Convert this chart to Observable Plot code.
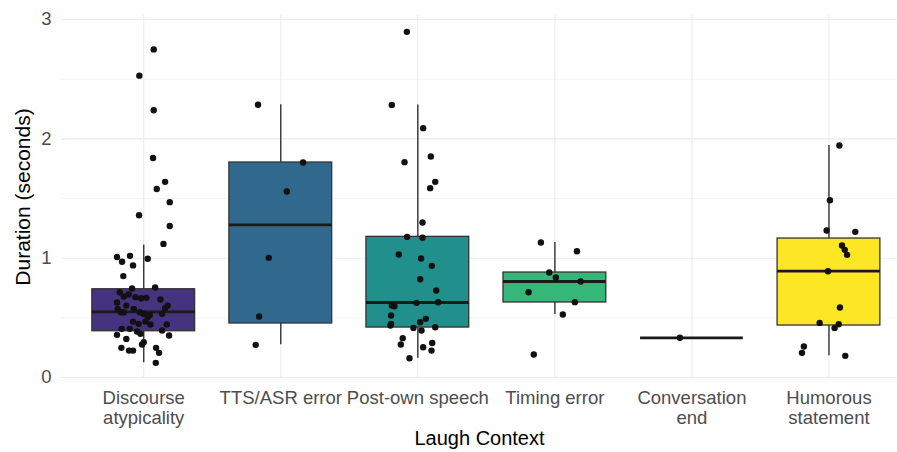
<!DOCTYPE html>
<html>
<head>
<meta charset="utf-8">
<script src="https://cdn.jsdelivr.net/npm/d3@7"></script>
<script src="https://cdn.jsdelivr.net/npm/@observablehq/plot@0.6"></script>
<style>
  html, body { margin: 0; padding: 0; background: #fff; }
</style>
</head>
<body>
<div id="chart"></div>
<script>
// ---- data ----
const categories = ["Discourse atypicality", "TTS/ASR error", "Post-own speech", "Timing error", "Conversation end", "Humorous statement"];
const tickLabels = ["Discourse\natypicality", "TTS/ASR error", "Post-own speech", "Timing error", "Conversation\nend", "Humorous\nstatement"];
const colors = ["#45337F", "#31688E", "#21908C", "#35B779", "#8FD744", "#FDE725"];

const q1          = [0.388, 0.453, 0.419, 0.629, 0.333, 0.436];
const medians     = [0.550, 1.280, 0.629, 0.805, 0.333, 0.891];
const q3          = [0.740, 1.802, 1.179, 0.880, 0.333, 1.165];
const whiskerLow  = [0.123, 0.274, 0.162, 0.528, 0.333, 0.182];
const whiskerHigh = [1.110, 2.286, 2.285, 1.132, 0.333, 1.945];

const yTicks = [0, 1, 2, 3];
const yMinorTicks = [0.5, 1.5, 2.5];

// durations (seconds) and jitter offsets (category units)
const discourseValues = [2.75, 2.53, 2.24, 1.84, 1.64, 1.58, 1.47, 1.36, 1.27, 1.12, 1.01, 0.97, 1.02, 0.94, 0.995, 0.85, 0.746, 0.754,
  0.715, 0.679, 0.696, 0.673, 0.665, 0.668, 0.654, 0.629, 0.603, 0.603, 0.581, 0.575, 0.575, 0.547, 0.547, 0.547, 0.534, 0.525, 0.534, 0.506,
  0.469, 0.450, 0.469, 0.444, 0.444, 0.408, 0.408, 0.358, 0.386, 0.366, 0.394, 0.352, 0.324, 0.296, 0.277, 0.249, 0.226, 0.226, 0.249, 0.207, 0.123];
const discourseJitter = [0.073, -0.032, 0.073, 0.068, 0.156, 0.095, 0.190, -0.034, 0.190, 0.144, -0.195, -0.158, -0.100, -0.078, 0.029, -0.149, -0.085, 0.083,
  -0.175, -0.146, -0.110, -0.061, -0.019, 0.019, 0.122, -0.195, -0.127, 0.175, 0.156, -0.190, -0.073, -0.166, -0.146, -0.029, 0.000, 0.044, 0.134, 0.029,
  -0.078, -0.037, 0.012, 0.049, 0.168, -0.102, -0.161, -0.195, -0.049, -0.024, 0.134, 0.185, -0.127, 0.000, -0.012, -0.163, -0.107, -0.078, 0.090, 0.112, 0.088];

const ttsValues = [2.286, 1.802, 1.559, 1.003, 0.511, 0.274];
const ttsJitter = [-0.166, 0.163, 0.044, -0.088, -0.158, -0.183];

const postOwnValues = [2.897, 2.285, 2.090, 1.852, 1.805, 1.640, 1.587, 1.299, 1.179, 1.171, 1.031, 0.997, 0.936, 0.824, 0.729, 0.626, 0.631,
  0.603, 0.598, 0.520, 0.492, 0.464, 0.450, 0.436, 0.416, 0.422, 0.394, 0.330, 0.277, 0.254, 0.290, 0.226, 0.162];
const postOwnJitter = [-0.080, -0.190, 0.039, 0.095, -0.097, 0.127, 0.090, 0.034, -0.078, 0.034, -0.139, 0.024, 0.102, 0.017, 0.134, -0.010, 0.149,
  -0.190, -0.171, -0.195, 0.058, 0.017, -0.195, -0.200, -0.032, 0.127, 0.027, -0.110, -0.124, 0.039, 0.105, 0.100, -0.061];

const timingValues = [1.132, 1.059, 0.880, 0.838, 0.805, 0.715, 0.632, 0.528, 0.193];
const timingJitter = [-0.102, 0.161, -0.041, 0.007, 0.188, -0.192, 0.146, 0.058, -0.154];

const conversationValues = [0.333];
const conversationJitter = [-0.088];

const humorousValues = [1.945, 1.486, 1.232, 1.221, 1.107, 1.070, 1.028, 0.891, 0.587, 0.458, 0.447, 0.416, 0.260, 0.207, 0.182];
const humorousJitter = [0.076, 0.007, -0.017, 0.192, 0.095, 0.115, 0.132, -0.007, 0.080, -0.068, 0.071, 0.041, -0.183, -0.197, 0.119];

const seriesValues = [discourseValues, ttsValues, postOwnValues, timingValues, conversationValues, humorousValues];
const seriesJitter = [discourseJitter, ttsJitter, postOwnJitter, timingJitter, conversationJitter, humorousJitter];

// ---- tables ----
const boxes = categories.map((c, i) => ({
  category: c, pos: i + 1, label: tickLabels[i], color: colors[i],
  q1: q1[i], median: medians[i], q3: q3[i], lo: whiskerLow[i], hi: whiskerHigh[i]
}));
const points = seriesValues.flatMap((vals, i) => vals.map((v, j) => ({
  category: categories[i], pos: i + 1, value: v, jitter: seriesJitter[i][j]
})));

const half = 0.375;
const grid = "#EBEBEB";
const font = "'Liberation Sans', Arial, Helvetica, sans-serif";

const chart = Plot.plot({
  width: 897,
  height: 452,
  marginLeft: 61,
  marginRight: 0,
  marginTop: 15,
  marginBottom: 74,
  x: {domain: [0.4, 6.5], axis: null},
  y: {domain: [-0.008, 3.034], axis: null},
  color: {type: "identity"},
  style: {fontFamily: font, background: "#fff", overflow: "visible"},
  marks: [
    Plot.ruleY(yMinorTicks, {y: d => d, stroke: grid, strokeWidth: 0.6}),
    Plot.ruleY(yTicks, {y: d => d, stroke: grid, strokeWidth: 1.1}),
    Plot.ruleX(boxes, {x: "pos", stroke: grid, strokeWidth: 1.1}),
    Plot.ruleX(boxes, {x: "pos", y1: "q3", y2: "hi", stroke: "#333", strokeWidth: 1.4}),
    Plot.ruleX(boxes, {x: "pos", y1: "lo", y2: "q1", stroke: "#333", strokeWidth: 1.4}),
    Plot.rect(boxes, {x1: d => d.pos - half, x2: d => d.pos + half, y1: "q1", y2: "q3", fill: "color", stroke: "#333", strokeWidth: 1.3}),
    Plot.ruleY(boxes, {y: "median", x1: d => d.pos - half, x2: d => d.pos + half, stroke: "#1a1a1a", strokeWidth: 2.8}),
    Plot.dot(points, {x: d => d.pos + d.jitter, y: "value", r: 3.2, fill: "#111", stroke: null}),
    // x tick labels
    Plot.text(boxes, {x: "pos", text: "label", frameAnchor: "bottom", lineAnchor: "top", dy: 12, fontSize: 18.5, lineHeight: 1.05, fill: "#4D4D4D"}),
    // y tick labels
    Plot.text(yTicks, {y: d => d, text: d => String(d), frameAnchor: "left", textAnchor: "end", dx: -10, fontSize: 18.5, fill: "#4D4D4D"}),
    // axis titles
    Plot.text(["Laugh Context"], {text: d => d, frameAnchor: "bottom", dy: 66, fontSize: 20, fill: "#000"}),
    Plot.text(["Duration (seconds)"], {text: d => d, frameAnchor: "left", textAnchor: "middle", dx: -38, rotate: -90, fontSize: 21, fill: "#000"})
  ]
});
document.getElementById("chart").appendChild(chart);
</script>
</body>
</html>
